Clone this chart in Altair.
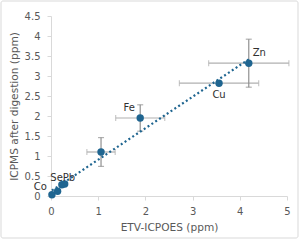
import altair as alt
import pandas as pd

names = ["Co", "Se", "", "Pb", "", "Fe", "Cu", "Zn"]
x_vals = [0.02, 0.14, 0.23, 0.29, 1.06, 1.89, 3.56, 4.19]
y_vals = [0.03, 0.12, 0.28, 0.30, 1.10, 1.95, 2.82, 3.32]
x_err = [0, 0, 0, 0, 0.30, 0.52, 0.84, 0.85]
y_err = [0, 0, 0, 0, 0.36, 0.33, 0, 0.60]
label_side = ["left", "above", "", "aboveright", "", "aboveleft", "below", "aboveright2"]
x_ticks = [0, 1, 2, 3, 4, 5]
y_ticks = [0, 0.5, 1, 1.5, 2, 2.5, 3, 3.5, 4, 4.5]

df = pd.DataFrame({"name": names, "x": x_vals, "y": y_vals,
                   "xe": x_err, "ye": y_err, "side": label_side})
df["xlo"] = df["x"] - df["xe"]
df["xhi"] = df["x"] + df["xe"]
df["ylo"] = df["y"] - df["ye"]
df["yhi"] = df["y"] + df["ye"]

BLUE = "#1f6590"
FONT = "DejaVu Sans"
TXT = "#595959"

xs = alt.Scale(domain=[0, 5], nice=False)
ys = alt.Scale(domain=[0, 4.5], nice=False)

xaxis = alt.Axis(values=x_ticks, title="ETV-ICPOES (ppm)", grid=False,
                 domainColor="#d9d9d9", tickColor="#d9d9d9", tickSize=4,
                 labelColor=TXT, titleColor=TXT, labelFont=FONT, titleFont=FONT,
                 labelFontSize=10, titleFontSize=10.6, titleFontWeight="normal",
                 labelPadding=6, titlePadding=6, labelOverlap=False, labelFlush=False)
yaxis = alt.Axis(values=y_ticks, format=".1~f",
                 title="ICPMS after digestion (ppm)", grid=False,
                 domainColor="#d9d9d9", tickColor="#d9d9d9", tickSize=4,
                 labelColor=TXT, titleColor=TXT, labelFont=FONT, titleFont=FONT,
                 labelFontSize=10, titleFontSize=10.6, titleFontWeight="normal",
                 labelPadding=7, titlePadding=5, labelOverlap=False, labelFlush=False)

def X(f):
    return alt.X(f, type="quantitative", scale=xs, axis=xaxis)

def Y(f):
    return alt.Y(f, type="quantitative", scale=ys, axis=yaxis)

base = alt.Chart(df)

frame = alt.Chart(pd.DataFrame({"a": [0]})).mark_rect(
    fill=None, stroke="#d9d9d9", strokeWidth=1, cornerRadius=2, clip=False
).encode(x=alt.value(-50), x2=alt.value(247), y=alt.value(-15), y2=alt.value(222))

hb = base.transform_filter("datum.xe > 0")
vb = base.transform_filter("datum.ye > 0")
hbar = hb.mark_rule(color="#b0b0b0", strokeWidth=1.2).encode(x=X("xlo"), x2="xhi:Q", y=Y("y"))
hcap1 = hb.mark_tick(color="#b0b0b0", orient="vertical", size=6, thickness=1.2).encode(x=X("xlo"), y=Y("y"))
hcap2 = hb.mark_tick(color="#b0b0b0", orient="vertical", size=6, thickness=1.2).encode(x=X("xhi"), y=Y("y"))
vbar = vb.mark_rule(color="#909090", strokeWidth=1.2).encode(x=X("x"), y=Y("ylo"), y2="yhi:Q")
vcap1 = vb.mark_tick(color="#909090", orient="horizontal", size=6, thickness=1.2).encode(x=X("x"), y=Y("ylo"))
vcap2 = vb.mark_tick(color="#909090", orient="horizontal", size=6, thickness=1.2).encode(x=X("x"), y=Y("yhi"))

trend = base.transform_regression("x", "y").mark_line(
    color=BLUE, strokeWidth=2.2, strokeDash=[2, 2.6]).encode(x=X("x"), y=Y("y"))

pts = base.mark_circle(color=BLUE, size=55, opacity=1).encode(x=X("x"), y=Y("y"))

def lab(side, dx, dy, align):
    return base.transform_filter(alt.datum.side == side).mark_text(
        font=FONT, fontSize=10, color="#303030", dx=dx, dy=dy, align=align,
        baseline="middle").encode(x=X("x"), y=Y("y"), text="name:N")

labels = [lab("left", -5, -8, "right"), lab("above", -1, -13, "center"),
          lab("aboveright", -2, -6, "left"), lab("aboveleft", -11, -10, "center"),
          lab("below", 0, 12, "center"), lab("aboveright2", 4, -10, "left")]

chart = alt.layer(frame, hbar, hcap1, hcap2, vbar, vcap1, vcap2, trend, pts, *labels).properties(
    width=236, height=180,
    autosize=alt.AutoSizeParams(type="none"),
    padding={"left": 51, "top": 16, "right": 13, "bottom": 45},
    background="white",
).configure_view(stroke=None)

chart.save("out.html", embed_options={"renderer": "svg", "actions": False})
